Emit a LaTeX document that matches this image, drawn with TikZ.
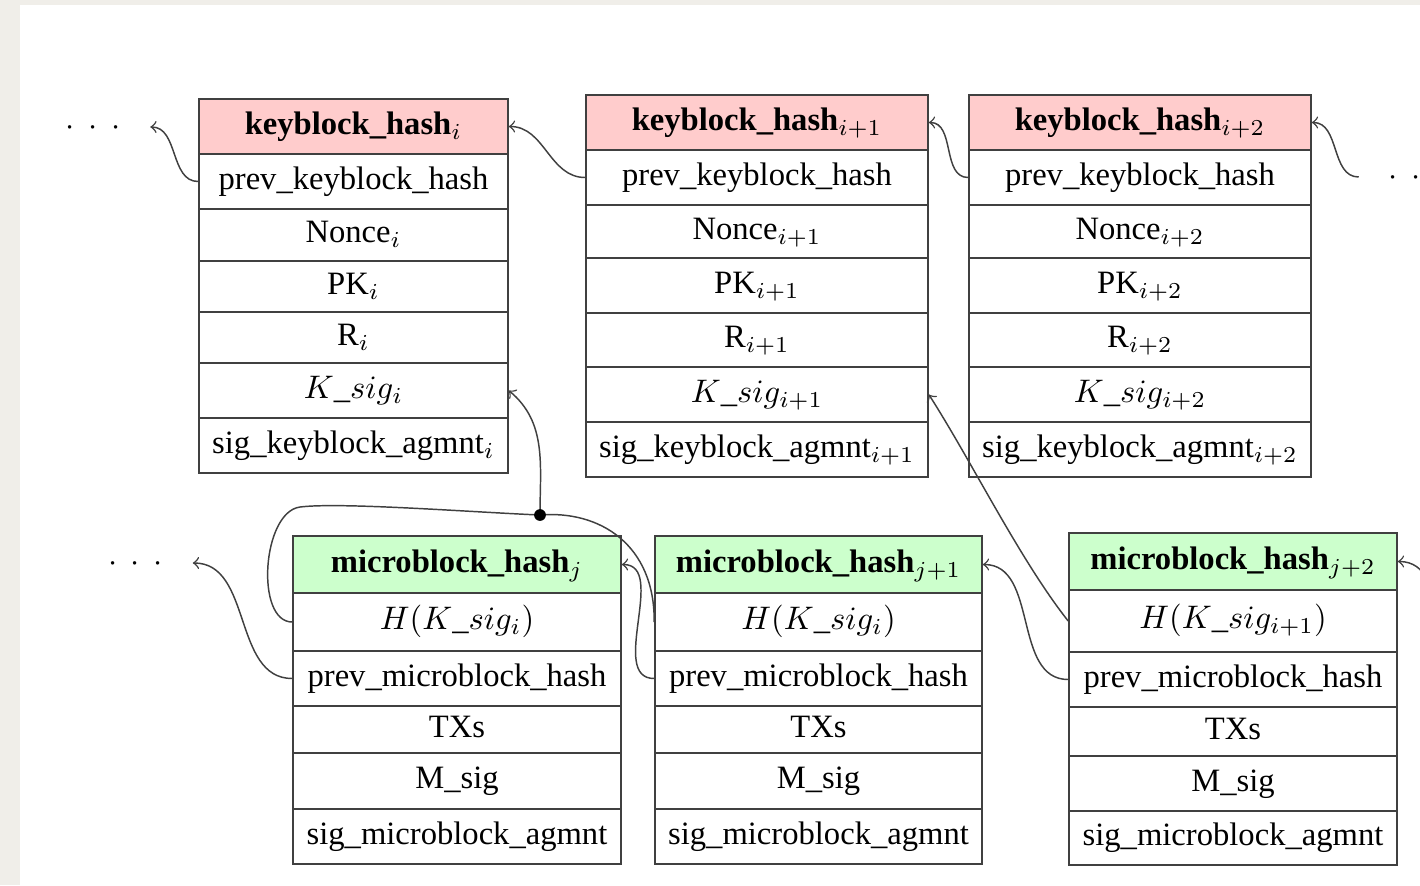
\documentclass[tikz,border=0pt]{standalone}
\usepackage[no-math]{fontspec}
\setmainfont{Liberation Serif}
\definecolor{paper}{HTML}{F0EEE9}
\definecolor{keyfill}{HTML}{FFCCCC}
\definecolor{microfill}{HTML}{CCFFCC}
\tikzset{
  cellbox/.style={draw=black!75, line width=0.5pt, inner sep=0pt,
    text height=0.69em, text depth=0.22em, align=center},
  keyhead/.style={fill=keyfill},
  microhead/.style={fill=microfill},
  plaincell/.style={fill=white},
  link/.style={draw=black!75, line width=0.45pt},
  arrowlink/.style={link, ->},
  dotsnode/.style={inner xsep=9pt, inner ysep=0pt, text height=0.5em, text depth=0pt},
}
% one table cell: name, x1, y1, x2, y2 (pixel grid, y downwards), style, text
\newcommand\cellnode[7]{%
  \node[cellbox,#6,minimum width={(#4-#2)*0.3067pt},minimum height={(#5-#3)*0.3067pt}]
    (#1) at ({(#2+#4)/2},{-(#3+#5)/2}) {#7};}
\newcommand\threedots{$\cdot$\hspace{0.42em}$\cdot$\hspace{0.42em}$\cdot$}
\begin{document}
\begin{tikzpicture}[x=0.3067pt,y=0.3067pt,font=\fontsize{10pt}{12pt}\selectfont]
\clip (0,0) rectangle (1420,-885);
\fill[paper] (0,0) rectangle (1420,-885);
\fill[white] (20,-5) rectangle (1420,-885);

% keyblock i
\cellnode{k1h}{199}{99}{508}{154}{keyhead}{\textbf{keyblock\_hash}$_{i}$}
\cellnode{k1p}{199}{154}{508}{209}{plaincell}{prev\_keyblock\_hash}
\cellnode{k1n}{199}{209}{508}{261}{plaincell}{Nonce$_{i}$}
\cellnode{k1k}{199}{261}{508}{312}{plaincell}{PK$_{i}$}
\cellnode{k1r}{199}{312}{508}{363}{plaincell}{R$_{i}$}
\cellnode{k1s}{199}{363}{508}{418}{plaincell}{$K\_sig_{i}$}
\cellnode{k1a}{199}{418}{508}{473}{plaincell}{sig\_keyblock\_agmnt$_{i}$}

% keyblock i+1
\cellnode{k2h}{586}{95}{928}{150}{keyhead}{\textbf{keyblock\_hash}$_{i+1}$}
\cellnode{k2p}{586}{150}{928}{205}{plaincell}{prev\_keyblock\_hash}
\cellnode{k2n}{586}{205}{928}{258}{plaincell}{Nonce$_{i+1}$}
\cellnode{k2k}{586}{258}{928}{313}{plaincell}{PK$_{i+1}$}
\cellnode{k2r}{586}{313}{928}{367}{plaincell}{R$_{i+1}$}
\cellnode{k2s}{586}{367}{928}{422}{plaincell}{$K\_sig_{i+1}$}
\cellnode{k2a}{586}{422}{928}{477}{plaincell}{sig\_keyblock\_agmnt$_{i+1}$}

% keyblock i+2
\cellnode{k3h}{969}{95}{1311}{150}{keyhead}{\textbf{keyblock\_hash}$_{i+2}$}
\cellnode{k3p}{969}{150}{1311}{205}{plaincell}{prev\_keyblock\_hash}
\cellnode{k3n}{969}{205}{1311}{258}{plaincell}{Nonce$_{i+2}$}
\cellnode{k3k}{969}{258}{1311}{313}{plaincell}{PK$_{i+2}$}
\cellnode{k3r}{969}{313}{1311}{367}{plaincell}{R$_{i+2}$}
\cellnode{k3s}{969}{367}{1311}{422}{plaincell}{$K\_sig_{i+2}$}
\cellnode{k3a}{969}{422}{1311}{477}{plaincell}{sig\_keyblock\_agmnt$_{i+2}$}

% microblock j
\cellnode{m1h}{293}{536}{621}{593}{microhead}{\textbf{microblock\_hash}$_{j}$}
\cellnode{m1H}{293}{593}{621}{651}{plaincell}{$H(K\_sig_{i})$}
\cellnode{m1p}{293}{651}{621}{706}{plaincell}{prev\_microblock\_hash}
\cellnode{m1t}{293}{706}{621}{753}{plaincell}{TXs}
\cellnode{m1m}{293}{753}{621}{809}{plaincell}{M\_sig}
\cellnode{m1a}{293}{809}{621}{864}{plaincell}{sig\_microblock\_agmnt}

% microblock j+1
\cellnode{m2h}{655}{536}{982}{593}{microhead}{\textbf{microblock\_hash}$_{j+1}$}
\cellnode{m2H}{655}{593}{982}{651}{plaincell}{$H(K\_sig_{i})$}
\cellnode{m2p}{655}{651}{982}{706}{plaincell}{prev\_microblock\_hash}
\cellnode{m2t}{655}{706}{982}{753}{plaincell}{TXs}
\cellnode{m2m}{655}{753}{982}{809}{plaincell}{M\_sig}
\cellnode{m2a}{655}{809}{982}{864}{plaincell}{sig\_microblock\_agmnt}

% microblock j+2
\cellnode{m3h}{1069}{533}{1397}{590}{microhead}{\textbf{microblock\_hash}$_{j+2}$}
\cellnode{m3H}{1069}{590}{1397}{652}{plaincell}{$H(K\_sig_{i+1})$}
\cellnode{m3p}{1069}{652}{1397}{707}{plaincell}{prev\_microblock\_hash}
\cellnode{m3t}{1069}{707}{1397}{756}{plaincell}{TXs}
\cellnode{m3m}{1069}{756}{1397}{811}{plaincell}{M\_sig}
\cellnode{m3a}{1069}{811}{1397}{865}{plaincell}{sig\_microblock\_agmnt}

% continuation dots
\node[dotsnode] (dkl) at (93,-127) {\threedots};
\node[dotsnode] (dkr) at (1416,-177) {\threedots};
\node[dotsnode] (dml) at (135.5,-563) {\threedots};

\coordinate (junc) at (540,-515);
\coordinate (offmr) at (1483,-679);

% hash chains
\draw[arrowlink] (k1p.west) to[out=180,in=0] (dkl.east);
\draw[arrowlink] (k2p.west) to[out=180,in=0] (k1h.east);
\draw[arrowlink] (k3p.west) to[out=180,in=0] (k2h.east);
\draw[arrowlink] (dkr.west) to[out=180,in=0] (k3h.east);
\draw[arrowlink] (m1p.west) to[out=180,in=0] (dml.east);
\draw[arrowlink] (m2p.west) to[out=180,in=0] (m1h.east);
\draw[arrowlink] (m3p.west) to[out=180,in=0] (m2h.east);
\draw[arrowlink] (offmr) to[out=180,in=0] (m3h.east);

% key signature references
\draw[link] (m1H.west) .. controls (255,-622) and (262,-512) .. (300,-507)
  .. controls (340,-502) and (470,-512) .. (junc);
\draw[link] (junc) .. controls (600,-510) and (655,-545) .. (m2H.west);
\draw[arrowlink] (junc) to[out=90,in=-40] (k1s.east);
\draw[arrowlink] (m3H.west) .. controls (1020,-560) and (972,-462) .. (k2s.east);
\fill[black] (junc) circle (1.8pt);
\end{tikzpicture}
\end{document}
